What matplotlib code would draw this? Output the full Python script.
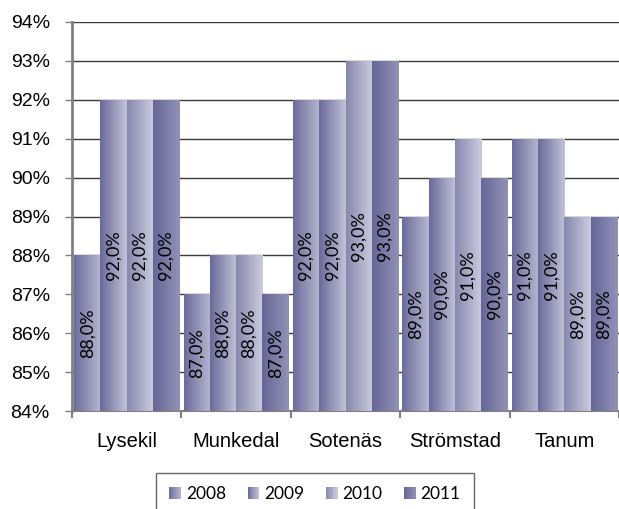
import numpy as np
import matplotlib
matplotlib.use("Agg")
import matplotlib.pyplot as plt
from matplotlib.colors import LinearSegmentedColormap
from matplotlib.patches import Rectangle
from matplotlib.legend_handler import HandlerBase
from matplotlib.ticker import FixedLocator

kommuner = ["Lysekil", "Munkedal", "Sotenäs", "Strömstad", "Tanum"]
years = ["2008", "2009", "2010", "2011"]
v2008 = [88, 87, 92, 89, 91]
v2009 = [92, 88, 92, 90, 91]
v2010 = [92, 88, 93, 91, 89]
v2011 = [92, 87, 93, 90, 89]
series = [v2008, v2009, v2010, v2011]

# left -> right shading of each series
shades = [("#6c6c9c", "#b6b6d0"),
          ("#6a6a9a", "#c2c2d8"),
          ("#8888ae", "#cbcbde"),
          ("#666698", "#9292b6")]
cmaps = [LinearSegmentedColormap.from_list("s%d" % i, s) for i, s in enumerate(shades)]
grad = np.linspace(0, 1, 64).reshape(1, -1)

fig = plt.figure(figsize=(6.19, 5.09), dpi=100)
ax = fig.add_axes([72 / 619, 98 / 509, 547 / 619, 389 / 509])

ymin, ymax = 84, 94
ax.set_xlim(-0.5, len(kommuner) - 0.5)
ax.set_ylim(ymin, ymax)

width = 0.24
x = np.arange(len(kommuner))
for i, vals in enumerate(series):
    pos = x + (i - 1.5) * width
    bars = ax.bar(pos, [v - ymin for v in vals], width, bottom=ymin,
                  facecolor="none", edgecolor="none", zorder=3)
    for b, v in zip(bars, vals):
        x0 = b.get_x()
        im = ax.imshow(grad, cmap=cmaps[i], aspect="auto", interpolation="bilinear",
                       extent=(x0, x0 + width, ymin, v), zorder=3)
        im.set_clip_path(b)
        ax.text(x0 + width / 2, (ymin + v) / 2, ("%.1f%%" % v).replace(".", ","),
                rotation=90, ha="center", va="center", fontsize=13,
                family="Lato", color="black", zorder=4)

ax.set_xlim(-0.5, len(kommuner) - 0.5)
ax.set_ylim(ymin, ymax)

ax.set_yticks(range(ymin, ymax + 1))
ax.set_yticklabels(["%d%%" % t for t in range(ymin, ymax + 1)],
                   family="Liberation Sans", fontsize=14)
ax.grid(axis="y", color="#3a3a3a", lw=1, zorder=1)
ax.set_axisbelow(True)

ax.set_xticks(x)
ax.set_xticklabels(kommuner, family="Liberation Sans", fontsize=14.5)
ax.xaxis.set_minor_locator(FixedLocator(np.arange(-0.5, len(kommuner), 1.0)))
ax.tick_params(axis="x", which="major", length=0, pad=15)
ax.tick_params(axis="x", which="minor", length=5, color="#808080", width=1.5)
ax.tick_params(axis="y", length=5, color="#808080", width=1, pad=11)

for s in ["top", "right"]:
    ax.spines[s].set_visible(False)
ax.spines["left"].set_color("#808080")
ax.spines["left"].set_linewidth(2)
ax.spines["bottom"].set_color("#808080")
ax.spines["bottom"].set_linewidth(1.5)


class GradientHandler(HandlerBase):
    def create_artists(self, legend, orig_handle, xd, yd, w, h, fontsize, trans):
        cm = cmaps[orig_handle.idx]
        n = 12
        side = min(w, h + 3)
        y0 = yd + (h - side) / 2
        parts = []
        for k in range(n):
            r = Rectangle((xd + k * side / n, y0), side / n + 0.3, side,
                          facecolor=cm((k + 0.5) / n), edgecolor="none", transform=trans)
            parts.append(r)
        return parts


handles = []
for i in range(len(years)):
    h = Rectangle((0, 0), 1, 1)
    h.idx = i
    handles.append(h)

leg = fig.legend(handles, years, handler_map={Rectangle: GradientHandler()},
                 loc="upper center", bbox_to_anchor=(315 / 619, 36 / 509),
                 ncol=4, frameon=True, fancybox=False, prop={"family": "Lato", "size": 12.5},
                 handlelength=0.65, handleheight=0.7, handletextpad=0.3, columnspacing=1.25,
                 borderpad=0.75, borderaxespad=0)
leg.get_frame().set_edgecolor("#404040")
leg.get_frame().set_linewidth(1)

fig.savefig("out.png", dpi=100)
